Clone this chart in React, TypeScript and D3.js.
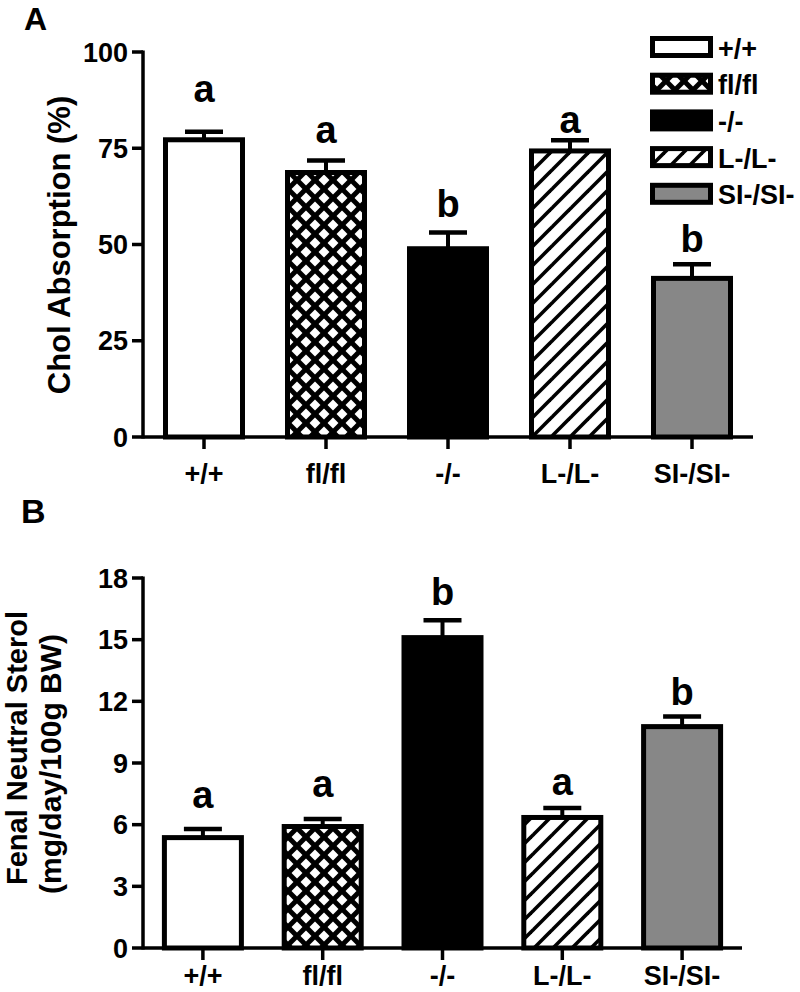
import React from "react";
import * as d3 from "d3";

const categories = ["+/+", "fl/fl", "-/-", "L-/L-", "SI-/SI-"];
const fills = ["white", "url(#cross)", "black", "url(#diag)", "#878787"];

const cholMean = [77.2, 68.7, 48.9, 74.3, 41.2];
const cholErr = [2.1, 3.1, 4.2, 2.8, 3.7];
const cholLetters = ["a", "a", "b", "a", "b"];
const cholLetterAt = [87.1, 76.3, 57.2, 78.9, 48.1];
const cholTicks = [0, 25, 50, 75, 100];

const sterolMean = [5.37, 5.91, 15.1, 6.35, 10.77];
const sterolErr = [0.42, 0.36, 0.85, 0.46, 0.49];
const sterolLetters = ["a", "a", "b", "a", "b"];
const sterolLetterAt = [6.79, 7.36, 16.68, 7.44, 11.82];
const sterolTicks = [0, 3, 6, 9, 12, 15, 18];

const FONT = "'Liberation Sans', Arial, Helvetica, sans-serif";

type PanelProps = {
  means: number[];
  errs: number[];
  letters: string[];
  letterAt: number[];
  ticks: number[];
  domainMax: number;
  yTop: number;
  yBottom: number;
  xLeft: number;
  xRight: number;
  labelGap: number;
};

function Panel(p: PanelProps) {
  const y = d3.scaleLinear().domain([0, p.domainMax]).range([p.yBottom, p.yTop]);
  const x = d3.scalePoint<string>().domain(categories).range([p.xLeft, p.xRight]).padding(0.5);
  const barW = 77;
  const capW = 38;
  return (
    <g>
      {categories.map((c, i) => {
        const cx = x(c) as number;
        const yt = y(p.means[i]);
        const ye = y(p.means[i] + p.errs[i]);
        return (
          <g key={c}>
            <line x1={cx} x2={cx} y1={yt} y2={ye} stroke="black" strokeWidth={4} />
            <line x1={cx - capW / 2} x2={cx + capW / 2} y1={ye} y2={ye} stroke="black" strokeWidth={4.5} />
            <rect x={cx - barW / 2} y={yt} width={barW} height={p.yBottom - yt} fill={fills[i]} stroke="black" strokeWidth={5} />
            <text x={cx} y={y(p.letterAt[i])} textAnchor="middle" fontSize={38} fontWeight="bold" fontFamily={FONT}>
              {p.letters[i]}
            </text>
          </g>
        );
      })}
      {/* y axis */}
      <line x1={p.xLeft} x2={p.xLeft} y1={y(p.domainMax) - 1.5} y2={p.yBottom + 1.5} stroke="black" strokeWidth={3.5} />
      {p.ticks.map((t) => (
        <g key={t}>
          <line x1={p.xLeft - 11} x2={p.xLeft} y1={y(t)} y2={y(t)} stroke="black" strokeWidth={3.5} />
          <text x={p.xLeft - 15} y={y(t)} dy="0.36em" textAnchor="end" fontSize={27} fontWeight="bold" fontFamily={FONT}>
            {t}
          </text>
        </g>
      ))}
      {/* x axis */}
      <line x1={p.xLeft} x2={p.xRight} y1={p.yBottom} y2={p.yBottom} stroke="black" strokeWidth={3.5} />
      {categories.map((c) => (
        <g key={c}>
          <line x1={x(c) as number} x2={x(c) as number} y1={p.yBottom} y2={p.yBottom + 12} stroke="black" strokeWidth={3.5} />
          <text x={x(c) as number} y={p.yBottom + p.labelGap} textAnchor="middle" fontSize={27} fontWeight="bold" fontFamily={FONT}>
            {c}
          </text>
        </g>
      ))}
    </g>
  );
}

export default function App() {
  const crossA = 18;
  const h = crossA / 2 - 5 / Math.SQRT2;
  const diamond = (cx: number, cy: number) =>
    `${cx - h},${cy} ${cx},${cy - h} ${cx + h},${cy} ${cx},${cy + h}`;
  const diagP = 19;
  const legendX = 652.5;
  const legendY0 = 38.5;
  const legendStep = 36.7;
  return (
    <svg width={800} height={992} style={{ position: "absolute", left: 0, top: 0, display: "block", background: "white" }}>
      <defs>
        <pattern id="cross" patternUnits="userSpaceOnUse" width={crossA} height={crossA}>
          <rect width={crossA} height={crossA} fill="black" />
          <polygon points={diamond(crossA / 2, crossA / 2)} fill="white" />
          <polygon points={diamond(0, 0)} fill="white" />
          <polygon points={diamond(crossA, 0)} fill="white" />
          <polygon points={diamond(0, crossA)} fill="white" />
          <polygon points={diamond(crossA, crossA)} fill="white" />
        </pattern>
        <pattern id="diag" patternUnits="userSpaceOnUse" width={diagP} height={diagP}>
          <rect width={diagP} height={diagP} fill="white" />
          <line x1={0} y1={diagP} x2={diagP} y2={0} stroke="black" strokeWidth={3.6} />
          <line x1={-diagP / 2} y1={diagP / 2} x2={diagP / 2} y2={-diagP / 2} stroke="black" strokeWidth={3.6} />
          <line x1={diagP / 2} y1={diagP * 1.5} x2={diagP * 1.5} y2={diagP / 2} stroke="black" strokeWidth={3.6} />
        </pattern>
      </defs>

      <text x={24} y={30} fontSize={32} fontWeight="bold" fontFamily={FONT}>A</text>
      <text x={21} y={523} fontSize={34} fontWeight="bold" fontFamily={FONT}>B</text>

      <Panel
        means={cholMean}
        errs={cholErr}
        letters={cholLetters}
        letterAt={cholLetterAt}
        ticks={cholTicks}
        domainMax={100}
        yTop={52}
        yBottom={437}
        xLeft={143}
        xRight={753}
        labelGap={46}
      />
      <text transform="translate(70,245) rotate(-90)" textAnchor="middle" fontSize={31} fontWeight="bold" fontFamily={FONT}>
        Chol Absorption (%)
      </text>

      <Panel
        means={sterolMean}
        errs={sterolErr}
        letters={sterolLetters}
        letterAt={sterolLetterAt}
        ticks={sterolTicks}
        domainMax={18}
        yTop={578}
        yBottom={948}
        xLeft={143}
        xRight={742}
        labelGap={37}
      />
      <text transform="translate(27,748) rotate(-90)" textAnchor="middle" fontSize={29} fontWeight="bold" fontFamily={FONT}>
        Fenal Neutral Sterol
      </text>
      <text transform="translate(61,764) rotate(-90)" textAnchor="middle" fontSize={30} fontWeight="bold" fontFamily={FONT}>
        (mg/day/100g BW)
      </text>

      {categories.map((c, i) => (
        <g key={c}>
          <rect x={legendX} y={legendY0 + i * legendStep} width={58} height={17} fill={fills[i]} stroke="black" strokeWidth={5} />
          <text x={718} y={legendY0 + i * legendStep + 19} fontSize={27} fontWeight="bold" fontFamily={FONT}>
            {c}
          </text>
        </g>
      ))}
    </svg>
  );
}
